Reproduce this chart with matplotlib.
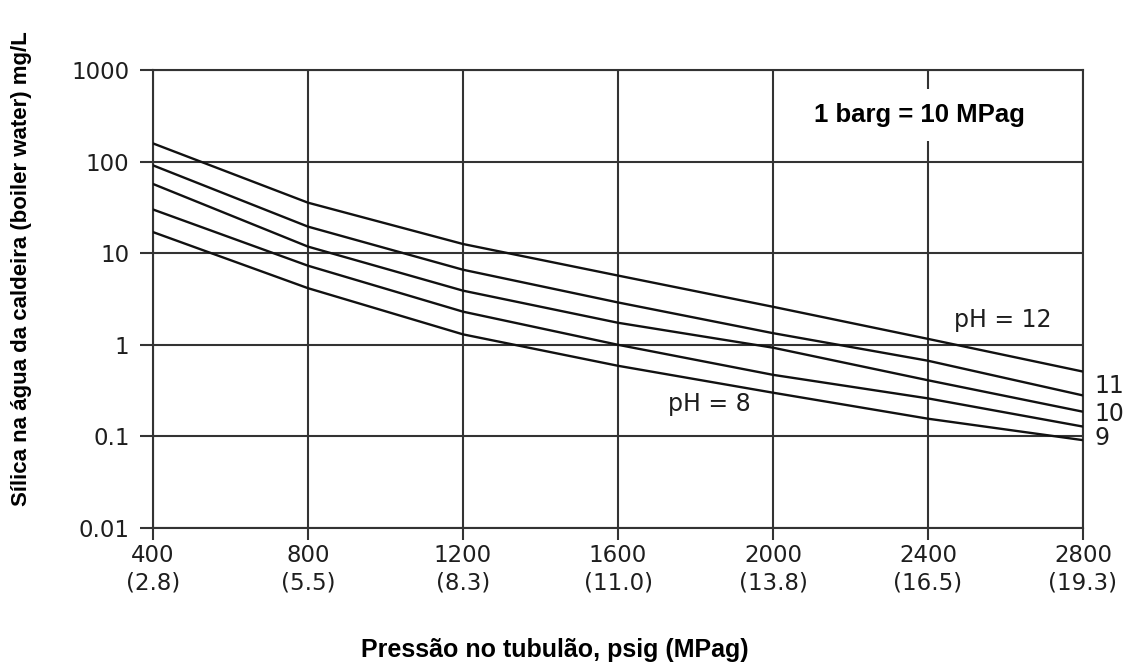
import numpy as np
import matplotlib
matplotlib.use("Agg")
import matplotlib.pyplot as plt

# pressure (psig) and matching MPag labels
pressure = [400, 800, 1200, 1600, 2000, 2400, 2800]
mpag = ["2.8", "5.5", "8.3", "11.0", "13.8", "16.5", "19.3"]

# silica in boiler water, mg/L
ph12 = [158, 35.6, 12.6, 5.7, 2.6, 1.16, 0.51]
ph11 = [91, 19.5, 6.6, 2.9, 1.34, 0.67, 0.28]
ph10 = [57, 11.8, 3.9, 1.74, 0.93, 0.41, 0.186]
ph9 = [30, 7.3, 2.3, 1.0, 0.47, 0.26, 0.128]
ph8 = [17, 4.15, 1.3, 0.59, 0.30, 0.156, 0.091]

y_ticks = [0.01, 0.1, 1, 10, 100, 1000]
y_labels = ["0.01", "0.1", "1", "10", "100", "1000"]

grid_col = "#333333"
bold_font = ["Liberation Sans Narrow", "Liberation Sans", "DejaVu Sans"]

fig = plt.figure(figsize=(11.31, 6.63), dpi=100)
ax = fig.add_axes([153 / 1131, 1 - 528 / 663, 930 / 1131, 458 / 663])

for series in [ph12, ph11, ph10, ph9, ph8]:
    ax.plot(pressure, series, color="#111111", lw=1.7, zorder=3,
            solid_joinstyle="round")

ax.set_yscale("log")
ax.set_xlim(400, 2800)
ax.set_ylim(0.01, 1000)
ax.set_xticks(pressure)
ax.set_xticklabels([f"{p}\n({m})" for p, m in zip(pressure, mpag)],
                   fontsize=16.5, color="#1e1e1e", linespacing=1.25)
ax.set_yticks(y_ticks)
ax.set_yticklabels(y_labels, fontsize=16.5, color="#1e1e1e")
ax.yaxis.set_minor_locator(matplotlib.ticker.NullLocator())

ax.grid(True, color=grid_col, lw=1.5)
for s in ax.spines.values():
    s.set_color(grid_col)
    s.set_linewidth(1.5)
ax.tick_params(axis="y", length=9.4, width=1.5, color=grid_col, pad=7.5)
ax.tick_params(axis="x", length=8.5, width=1.5, color=grid_col, pad=3)

# curve labels
ax.text(2594, 1.87, "pH = 12", fontsize=17, color="#1e1e1e",
        ha="center", va="center")
ax.text(1835, 0.227, "pH = 8", fontsize=17, color="#1e1e1e",
        ha="center", va="center")
for lab, yv in [("11", 0.357), ("10", 0.177), ("9", 0.0966)]:
    ax.annotate(lab, xy=(2800, yv), xytext=(8.5, 0), textcoords="offset points",
                fontsize=17, color="#1e1e1e", ha="left", va="center",
                annotation_clip=False)

ax.text(2379, 323, "1 barg = 10 MPag", fontsize=18.5, fontweight="bold",
        family=bold_font, ha="center", va="center", zorder=4,
        bbox=dict(facecolor="white", edgecolor="none", pad=10))

fig.text(555 / 1131, 1 - 650 / 663, "Pressão no tubulão, psig (MPag)",
         fontsize=18, fontweight="bold", family=bold_font,
         ha="center", va="center")
fig.text(22 / 1131, 1 - 269 / 663,
         "Sílica na água da caldeira (boiler water) mg/L",
         fontsize=16, fontweight="bold", family=bold_font,
         rotation=90, ha="center", va="center")

fig.savefig("out.png", dpi=100, facecolor="white")
